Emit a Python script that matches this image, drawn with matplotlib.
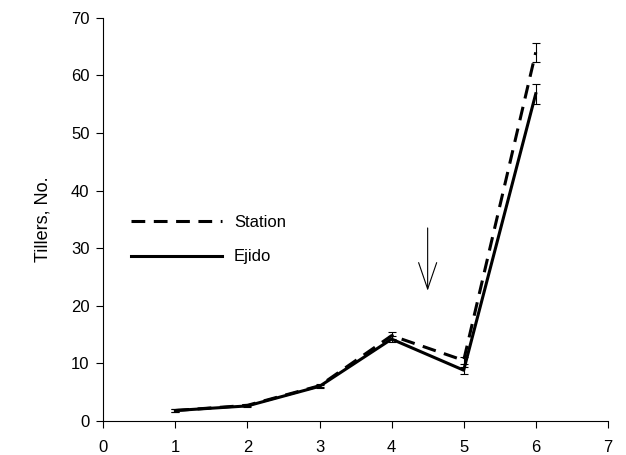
import matplotlib
matplotlib.use("Agg")
import matplotlib.pyplot as plt

plt.rcParams["font.family"] = ["Liberation Sans", "DejaVu Sans"]

# Data
stage = [1, 2, 3, 4, 5, 6]
station = [1.8, 2.7, 6.1, 14.8, 10.5, 64.0]
station_err = [0.2, 0.2, 0.3, 0.6, 0.6, 1.7]
ejido = [1.8, 2.6, 6.0, 14.2, 8.8, 56.8]
ejido_err = [0.2, 0.2, 0.3, 0.5, 0.6, 1.7]

fig = plt.figure(figsize=(6.26, 4.55), dpi=100)
ax = fig.add_axes([0.165, 0.075, 0.806, 0.886])

ax.errorbar(stage, station, yerr=station_err, color="black", lw=2.2,
            ls=(0, (4.5, 2.8)), elinewidth=0.8, capsize=3.2, capthick=0.8,
            label="Station")
ax.errorbar(stage, ejido, yerr=ejido_err, color="black", lw=2.2,
            elinewidth=0.8, capsize=3.2, capthick=0.8, label="Ejido")

# Arrow marking the event between stages 4 and 5
ax.annotate("", xy=(4.5, 22.6), xytext=(4.5, 33.5),
            arrowprops=dict(arrowstyle="->, head_length=1.9, head_width=0.65",
                            lw=0.8, color="black", shrinkA=0, shrinkB=0))

ax.set_xlim(0, 7)
ax.set_ylim(0, 70)
ax.set_xticks(range(0, 8))
ax.set_yticks(range(0, 71, 10))
ax.set_ylabel("Tillers, No.", fontsize=13, labelpad=14)
ax.tick_params(direction="out", length=5, width=0.8, labelsize=12)
ax.tick_params(axis="x", pad=9)
ax.tick_params(axis="y", pad=5)
ax.spines["top"].set_visible(False)
ax.spines["right"].set_visible(False)

handles, labels = ax.get_legend_handles_labels()
handles = [h[0] for h in handles]
ax.legend(handles, labels, loc="upper left", bbox_to_anchor=(0.054, 0.51),
          frameon=False, fontsize=12, handlelength=5.5, handletextpad=0.7,
          labelspacing=1.15, borderpad=0, borderaxespad=0)

fig.savefig("out.png", dpi=100)
